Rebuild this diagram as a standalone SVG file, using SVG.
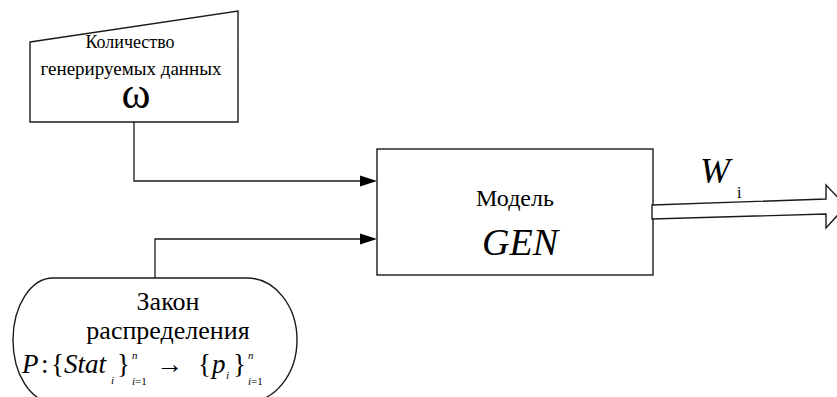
<svg xmlns="http://www.w3.org/2000/svg" width="837" height="397" viewBox="0 0 837 397">
<rect width="837" height="397" fill="#fff"/>
<g id="connectors">
<path d="M134,122 V181 H362" fill="none" stroke="#1a1a1a" stroke-width="1.3"/>
<path d="M360,175.5 L377,181 L360,186.5 Z" fill="#000"/>
<path d="M155,278 V239 H362" fill="none" stroke="#1a1a1a" stroke-width="1.3"/>
<path d="M360,233.5 L377,239 L360,244.5 Z" fill="#000"/>
</g>
<g id="input">
<path fill="#fff" stroke="#1a1a1a" stroke-width="1.4" d="M30,42 L238,11 L238,122 L30,122 Z"/>
<text x="130" y="48" font-size="18" font-family="'Liberation Serif'" text-anchor="middle">Количество</text>
<text x="131" y="75" font-size="19" font-family="'Liberation Serif'" text-anchor="middle">генерируемых данных</text>
<text x="136" y="108" font-size="44" font-family="'Liberation Serif'" text-anchor="middle">ω</text>
</g>
<g id="model">
<rect fill="#fff" stroke="#1a1a1a" stroke-width="1.4" x="377" y="149" width="276" height="126"/>
<text x="515" y="206" font-size="24" font-family="'Liberation Serif'" text-anchor="middle">Модель</text>
<text x="520" y="255" font-size="38" font-family="'Liberation Serif'" font-style="italic" text-anchor="middle">GEN</text>
</g>
<g id="law">
<path fill="#fff" stroke="#1a1a1a" stroke-width="1.4" d="M53,278 H247 A50,62 0 0 1 247,402 H53 A40,62 0 0 1 53,278 Z"/>
<text x="168" y="310" font-size="26" font-family="'Liberation Serif'" text-anchor="middle">Закон</text>
<text x="168" y="339" font-size="26" font-family="'Liberation Serif'" text-anchor="middle">распределения</text>
<text x="22" y="373" font-size="27" font-family="'Liberation Serif'" font-style="italic">P</text>
<text x="41" y="373" font-size="27" font-family="'Liberation Serif'">:</text>
<text x="51" y="373" font-size="27" font-family="'Liberation Serif'">{</text>
<text x="64" y="373" font-size="27" font-family="'Liberation Serif'" font-style="italic">Stat</text>
<text x="111" y="384" font-size="11" font-family="'Liberation Serif'" font-style="italic">i</text>
<text x="117" y="373" font-size="27" font-family="'Liberation Serif'">}</text>
<text x="132" y="359" font-size="11" font-family="'Liberation Serif'" font-style="italic">n</text>
<text x="132" y="385" font-size="11" font-family="'Liberation Serif'"><tspan font-style="italic">i</tspan>=1</text>
<text x="156" y="373" font-size="27" font-family="'Liberation Serif'">→</text>
<text x="198" y="373" font-size="27" font-family="'Liberation Serif'">{</text>
<text x="212" y="373" font-size="27" font-family="'Liberation Serif'" font-style="italic">p</text>
<text x="226" y="379" font-size="11" font-family="'Liberation Serif'" font-style="italic">i</text>
<text x="233" y="373" font-size="27" font-family="'Liberation Serif'">}</text>
<text x="248" y="359" font-size="11" font-family="'Liberation Serif'" font-style="italic">n</text>
<text x="248" y="385" font-size="11" font-family="'Liberation Serif'"><tspan font-style="italic">i</tspan>=1</text>
</g>
<g id="output">
<path fill="#fff" stroke="#1a1a1a" stroke-width="1.4" d="M652,205 L826,199 L826,185 L846,206 L826,228 L826,214 L652,219 Z"/>
<text x="700" y="183" font-size="36" font-family="'Liberation Serif'" font-style="italic">W</text>
<text x="737" y="198" font-size="16" font-family="'Liberation Serif'">i</text>
</g>
</svg>
